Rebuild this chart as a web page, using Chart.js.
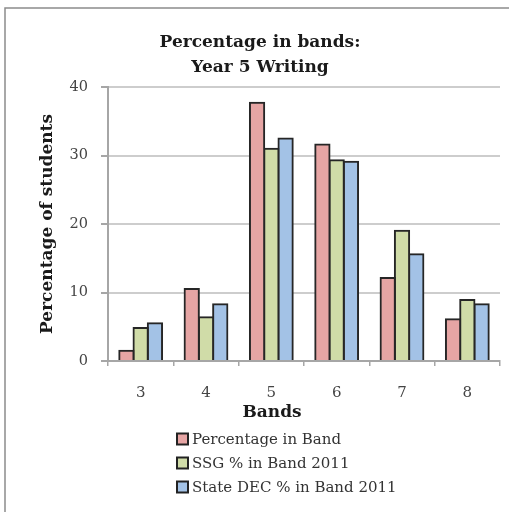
<!DOCTYPE html>
<html>
<head>
<meta charset="utf-8">
<script src="https://cdn.jsdelivr.net/npm/chart.js@4.4.0/dist/chart.umd.min.js"></script>
<style>
    html, body { margin: 0; padding: 0; background: #fff; }
    #wrap { position: relative; width: 509px; height: 512px; }
</style>
</head>
<body>
<div id="wrap"><canvas id="bandsChart" width="509" height="512"></canvas></div>
<script>
// Chart data
const bands = ['3', '4', '5', '6', '7', '8'];
const schoolPct = [1.5, 10.5, 37.7, 31.6, 12.1, 6.1];
const ssgPct = [4.8, 6.4, 31.0, 29.3, 19.0, 8.9];
const statePct = [5.5, 8.3, 32.5, 29.1, 15.6, 8.3];
const seriesNames = ['Percentage in Band', 'SSG % in Band 2011', 'State DEC % in Band 2011'];
const xTitle = 'Bands';
const yTitle = 'Percentage of students';
const yMin = 0, yMax = 40, yStep = 10;

const serif = '"DejaVu Serif", "Liberation Serif", serif';
const axisGrey = '#a6a6a6';

// Frame line on the left and top edge of the picture
const framePlugin = {
    id: 'frame',
    beforeDraw(chart) {
        const ctx = chart.ctx;
        ctx.save();
        ctx.fillStyle = '#fff';
        ctx.fillRect(0, 0, chart.width, chart.height);
        ctx.strokeStyle = '#8c8c8c';
        ctx.lineWidth = 1.5;
        ctx.beginPath();
        ctx.moveTo(5, chart.height);
        ctx.lineTo(5, 8);
        ctx.lineTo(chart.width, 8);
        ctx.stroke();
        ctx.restore();
    }
};

// Axis title under the tick labels plus a legend stacked in rows
const bottomLabels = {
    id: 'bottomLabels',
    afterDraw(chart) {
        const ctx = chart.ctx;
        ctx.save();
        ctx.textBaseline = 'middle';
        ctx.textAlign = 'center';
        ctx.fillStyle = '#1a1a1a';
        ctx.font = 'bold 17px ' + serif;
        ctx.fillText(xTitle, 272, 413);

        ctx.font = '15px ' + serif;
        ctx.textAlign = 'left';
        chart.data.datasets.forEach(function(ds, i) {
            const y = 439 + i * 24;
            ctx.fillStyle = ds.backgroundColor;
            ctx.fillRect(177, y - 5.5, 11, 11);
            ctx.strokeStyle = '#222';
            ctx.lineWidth = 2;
            ctx.strokeRect(177, y - 5.5, 11, 11);
            ctx.fillStyle = '#333';
            ctx.fillText(ds.label, 192, y + 1);
        });
        ctx.restore();
    }
};

const ctx = document.getElementById('bandsChart');
new Chart(ctx, {
    type: 'bar',
    data: {
        labels: bands,
        datasets: [
            { label: seriesNames[0], data: schoolPct, backgroundColor: '#e6a5a4' },
            { label: seriesNames[1], data: ssgPct, backgroundColor: '#d0dca8' },
            { label: seriesNames[2], data: statePct, backgroundColor: '#a3c2e6' }
        ]
    },
    options: {
        responsive: false,
        animation: false,
        devicePixelRatio: 1,
        layout: { padding: { left: 20, right: 9, top: 0, bottom: 88 } },
        datasets: {
            bar: {
                categoryPercentage: 0.655,
                barPercentage: 1.0,
                borderColor: '#262626',
                borderWidth: 2,
                inflateAmount: 1
            }
        },
        plugins: {
            legend: { display: false },
            tooltip: { enabled: false },
            title: {
                display: true,
                text: ['Percentage in bands:', 'Year 5 Writing'],
                color: '#1a1a1a',
                font: { family: serif, size: 17, weight: 'bold', lineHeight: '25px' },
                padding: { top: 30, bottom: 7 }
            }
        },
        scales: {
            x: {
                grid: {
                    display: true,
                    drawOnChartArea: false,
                    tickLength: 5,
                    tickColor: axisGrey,
                    lineWidth: 1.5
                },
                border: { color: axisGrey, width: 2 },
                ticks: {
                    color: '#444',
                    font: { family: serif, size: 15 },
                    padding: 18
                },
                afterFit(scale) { scale.height = 512 - 361 - 88; }
            },
            y: {
                min: yMin,
                max: yMax,
                ticks: {
                    stepSize: yStep,
                    color: '#444',
                    font: { family: serif, size: 14.5 },
                    padding: 13
                },
                grid: {
                    color: '#cdcdcd',
                    lineWidth: 2,
                    tickLength: 7,
                    tickColor: axisGrey
                },
                border: { color: axisGrey, width: 2 },
                title: {
                    display: true,
                    text: yTitle,
                    color: '#1a1a1a',
                    font: { family: serif, size: 17, weight: 'bold', lineHeight: 1.2 },
                    padding: { top: 17, bottom: 0 }
                },
                afterFit(scale) { scale.width = 108 - 20; }
            }
        }
    },
    plugins: [framePlugin, bottomLabels]
});
</script>
</body>
</html>
